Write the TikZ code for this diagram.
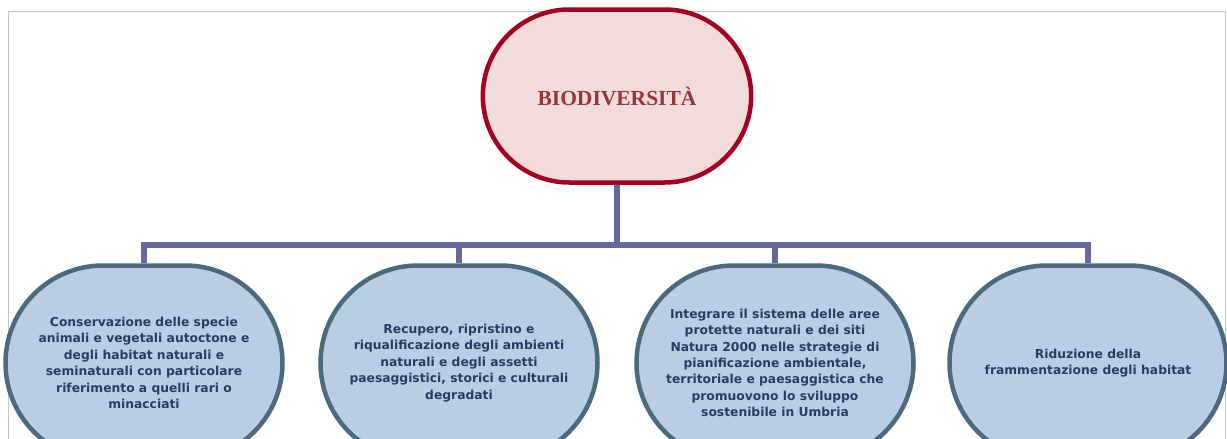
\documentclass[tikz,border=0pt]{standalone}
\usepackage{fontspec}
\setmainfont{DejaVu Sans}
\newfontfamily\titlefont{Liberation Serif}
\usepackage{xcolor}
\usetikzlibrary{shapes.misc, positioning, calc}

\definecolor{rootfill}{HTML}{F2DCDB}
\definecolor{rootline}{HTML}{A50021}
\definecolor{roottext}{HTML}{953735}
\definecolor{goalfill}{HTML}{B9CDE5}
\definecolor{goalline}{HTML}{4A6A7F}
\definecolor{goaltext}{HTML}{243F60}
\definecolor{linkline}{HTML}{67679F}

\begin{document}
\begin{tikzpicture}[
            x=1pt, y=-1pt,
            root/.style={rounded rectangle, draw=rootline, fill=rootfill, line width=4.5pt,
                minimum width=275pt, minimum height=173pt, text=roottext,
                font=\titlefont\bfseries\fontsize{21.5}{24}\selectfont},
            goal/.style={rounded rectangle, draw=goalline, fill=goalfill, line width=4.5pt,
                minimum width=277pt, minimum height=195pt, inner sep=0pt, align=center,
                text=goaltext, font=\bfseries\fontsize{12.3}{16.4}\selectfont},
            link/.style={draw=linkline, line width=6pt, line join=miter}
        ]
        \useasboundingbox (0,0) rectangle (1227,439);

        % Frame
        \draw[gray!45, line width=1pt] (8,439) -- (8,11) -- (1225,11) -- (1225,439);

        % Root
        \node[root] (bio) at (617,96) {BIODIVERSITÀ};

        % Goals
        \node[goal] (cons) at (144,363) {Conservazione delle specie\\animali e vegetali autoctone e\\degli habitat naturali e\\seminaturali con particolare\\riferimento a quelli rari o\\minacciati};
        \node[goal] (recu) at (459,363) {Recupero, ripristino e\\riqualificazione degli ambienti\\naturali e degli assetti\\paesaggistici, storici e culturali\\degradati};
        \node[goal] (integ) at (775,363) {Integrare il sistema delle aree\\protette naturali e dei siti\\Natura 2000 nelle strategie di\\pianificazione ambientale,\\territoriale e paesaggistica che\\promuovono lo sviluppo\\sostenibile in Umbria};
        \node[goal] (ridu) at (1088,363) {Riduzione della\\frammentazione degli habitat};

        % Links
        \coordinate (bar) at (617,245);
        \foreach \g in {cons, recu, integ, ridu}
            \draw[link] (bio.south) -- (bio.south |- bar) -| (\g.north);

    \end{tikzpicture}
\end{document}
